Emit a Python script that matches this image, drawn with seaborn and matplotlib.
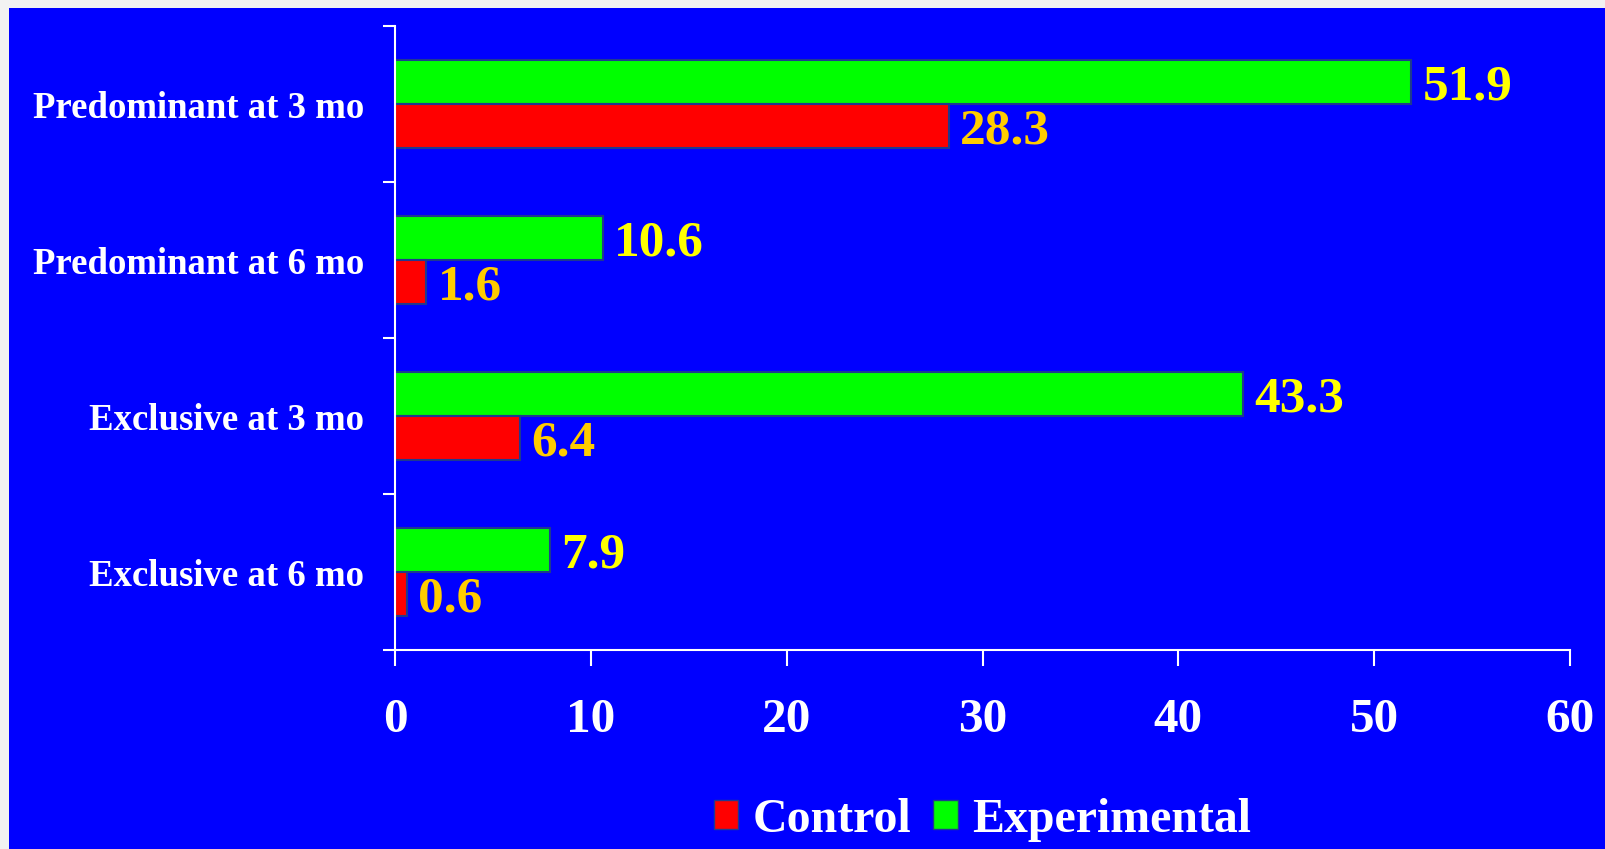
import matplotlib
matplotlib.use("Agg")
import matplotlib.pyplot as plt
import matplotlib.patches as mpatches
import seaborn as sns
import pandas as pd

categories = ["Predominant at 3 mo", "Predominant at 6 mo",
              "Exclusive at 3 mo", "Exclusive at 6 mo"]
control = [28.3, 1.6, 6.4, 0.6]
experimental = [51.9, 10.6, 43.3, 7.9]
x_ticks = [0, 10, 20, 30, 40, 50, 60]

BLUE = "#0000FF"
GREEN = "#00FF00"
RED = "#FF0000"
YELLOW = "#FFFF00"
GOLD = "#FFCC00"
EDGE = "#1f3a8f"

df = pd.DataFrame({
    "category": categories * 2,
    "value": experimental + control,
    "group": ["Experimental"] * len(categories) + ["Control"] * len(categories),
})

sns.set_theme(style="white")
plt.rcParams["font.family"] = ["Liberation Serif", "DejaVu Serif"]
plt.rcParams["font.weight"] = "bold"

fig = plt.figure(figsize=(16.05, 8.49), dpi=100, facecolor="#f2f2f2")
# blue panel behind the chart
fig.patches.append(mpatches.Rectangle((9 / 1605, 0), 1, (849 - 7.5) / 849,
                                      transform=fig.transFigure,
                                      facecolor=BLUE, edgecolor="none", zorder=-10))

ax = fig.add_axes([395 / 1605, 1 - 650 / 849, (1570 - 395) / 1605, 624 / 849])
ax.set_facecolor(BLUE)

sns.barplot(data=df, y="category", x="value", hue="group", order=categories,
            hue_order=["Experimental", "Control"],
            palette={"Experimental": GREEN, "Control": RED},
            orient="h", width=0.57, edgecolor=EDGE, linewidth=1.5,
            saturation=1, legend=False, ax=ax)

label_colors = {"Experimental": YELLOW, "Control": GOLD}
for container, grp in zip(ax.containers, ["Experimental", "Control"]):
    texts = ax.bar_label(container, fmt="%.1f", padding=8, fontsize=37,
                         fontweight="bold", color=label_colors[grp])
    for t in texts:
        t.set_verticalalignment("center_baseline")

ax.set_xlim(0, 60)
ax.set_ylim(3.5, -0.5)
ax.set_xticks(x_ticks)
ax.set_xticklabels([str(t) for t in x_ticks], fontsize=35.5, fontweight="bold",
                   color="white")
ax.tick_params(axis="x", direction="out", length=11.5, width=1.5,
               color="white", pad=23, bottom=True)

# boundary ticks between categories, labels centred on each group
ax.set_yticks([i - 0.5 for i in range(len(categories) + 1)])
ax.set_yticklabels([])
ax.set_yticks(range(len(categories)), categories, minor=True)
ax.tick_params(axis="y", which="major", direction="out", length=8.6,
               width=1.5, color="white", left=True)
ax.tick_params(axis="y", which="minor", length=0, pad=22)
for lab in ax.get_yticklabels(minor=True):
    lab.set_fontsize(26.5)
    lab.set_fontweight("bold")
    lab.set_color("white")

ax.set_xlabel("")
ax.set_ylabel("")
for side in ["top", "right"]:
    ax.spines[side].set_visible(False)
for side in ["left", "bottom"]:
    ax.spines[side].set_color("white")
    ax.spines[side].set_linewidth(1.5)

handles = [mpatches.Patch(facecolor=RED, edgecolor=EDGE, label="Control"),
           mpatches.Patch(facecolor=GREEN, edgecolor=EDGE, label="Experimental")]
leg = ax.legend(handles=handles, loc="center", bbox_to_anchor=(0.5, -0.272),
                ncol=2, frameon=False, handlelength=0.52, handleheight=0.56,
                handletextpad=0.3, columnspacing=0.45,
                prop={"family": "Liberation Serif", "weight": "bold", "size": 34.5})
for t in leg.get_texts():
    t.set_color("white")

fig.savefig("out.png", dpi=100, facecolor=fig.get_facecolor())
